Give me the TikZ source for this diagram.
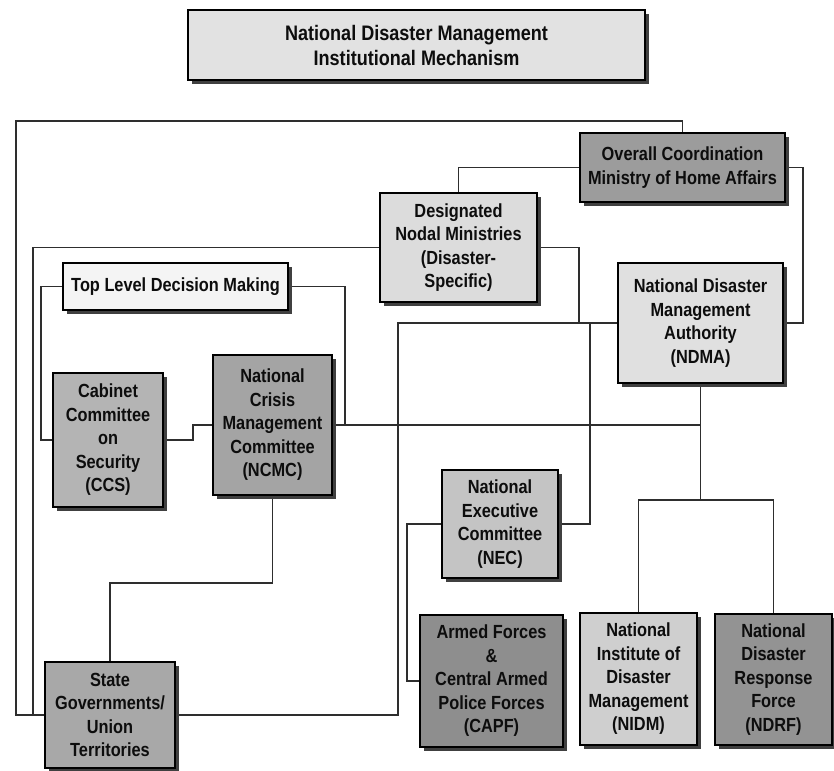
\documentclass[tikz,border=0pt]{standalone}
\usepackage{fontspec}
\setmainfont[FakeStretch=0.86]{Liberation Sans}
\usetikzlibrary{shadows,backgrounds,calc}
\definecolor{linec}{HTML}{2E2E2E}
\begin{document}
\begin{tikzpicture}[x=1pt,y=-1pt,
  box/.style={draw=black, line width=1.8pt, inner sep=0pt, align=center,
    text=black!95, font=\fontsize{19}{23.5}\selectfont\bfseries,
    drop shadow={shadow xshift=4pt, shadow yshift=-4pt, fill=black!75, opacity=1}},
  conn/.style={draw=linec, line width=1.8pt}]
\useasboundingbox (0,0) rectangle (834,770);
% boxes
\node[box, fill={rgb,255:red,226;green,226;blue,226}, minimum width=457pt, minimum height=70pt, font=\fontsize{21}{25}\selectfont\bfseries] (title) at (416.5,45) {National Disaster Management\\Institutional Mechanism};
\node[box, fill={rgb,255:red,156;green,156;blue,156}, minimum width=205pt, minimum height=69pt] (mha) at (682.5,167.5) {Overall Coordination\\Ministry of Home Affairs};
\node[box, fill={rgb,255:red,220;green,220;blue,220}, minimum width=157pt, minimum height=109pt] (desig) at (458.5,247.5) {Designated\\Nodal Ministries\\(Disaster-\\Specific)};
\node[box, fill={rgb,255:red,224;green,224;blue,224}, minimum width=165pt, minimum height=120pt] (ndma) at (700.5,323) {National Disaster\\Management\\Authority\\(NDMA)};
\node[box, fill={rgb,255:red,244;green,244;blue,244}, minimum width=225pt, minimum height=47pt] (tldm) at (175.5,286.5) {Top Level Decision Making};
\node[box, fill={rgb,255:red,180;green,180;blue,180}, minimum width=110pt, minimum height=134pt] (ccs) at (108,440) {Cabinet\\Committee\\on\\Security\\(CCS)};
\node[box, fill={rgb,255:red,164;green,164;blue,164}, minimum width=119pt, minimum height=140pt] (ncmc) at (272.5,425) {National\\Crisis\\Management\\Committee\\(NCMC)};
\node[box, fill={rgb,255:red,196;green,196;blue,196}, minimum width=116pt, minimum height=108pt] (nec) at (500,524) {National\\Executive\\Committee\\(NEC)};
\node[box, fill={rgb,255:red,168;green,168;blue,168}, minimum width=130pt, minimum height=106pt] (state) at (110,715) {State\\Governments/\\Union\\Territories};
\node[box, fill={rgb,255:red,142;green,142;blue,142}, minimum width=143pt, minimum height=132pt] (capf) at (491.5,681) {Armed Forces\\\&\\Central Armed\\Police Forces\\(CAPF)};
\node[box, fill={rgb,255:red,207;green,207;blue,207}, minimum width=117pt, minimum height=132pt] (nidm) at (638.5,679) {National\\Institute of\\Disaster\\Management\\(NIDM)};
\node[box, fill={rgb,255:red,147;green,147;blue,147}, minimum width=117pt, minimum height=131pt] (ndrf) at (773.5,679.5) {National\\Disaster\\Response\\Force\\(NDRF)};
% junction coordinates
\coordinate (busA) at (579,323);
\coordinate (busB) at (590,323);
\coordinate (ncmcbus) at (345,425);
\coordinate (split) at (700.5,500);
\begin{scope}[on background layer]
\fill[white] (0,0) rectangle (834,770);
\draw[conn] (state.west) -| (16,121) -| (mha.north);
\draw[conn] (desig.west) -| (33,715) -- (state.west);
\draw[conn] (mha.west) -| (desig.north);
\draw[conn] (mha.east) -- ++(17,0) |- (ndma.east);
\draw[conn] (desig.east) -| (busA);
\draw[conn] (ndma.west) -| (398,715) -- (state.east);
\draw[conn] (nec.east) -| (busB);
\draw[conn] (nec.west) -- ++(-34,0) |- (capf.west);
\draw[conn] (ncmc.east) -| (ndma.south);
\draw[conn] (ndma.south) -- (split);
\draw[conn] (nidm.north) |- (split) -| (ndrf.north);
\draw[conn] (tldm.west) -- ++(-21,0) |- (ccs.west);
\draw[conn] (tldm.east) -| (ncmcbus);
\draw[conn] (ccs.east) -- ++(29,0) |- (ncmc.west);
\draw[conn] (ncmc.south) -- ++(0,87) -| (state.north);
\end{scope}
\end{tikzpicture}
\end{document}
